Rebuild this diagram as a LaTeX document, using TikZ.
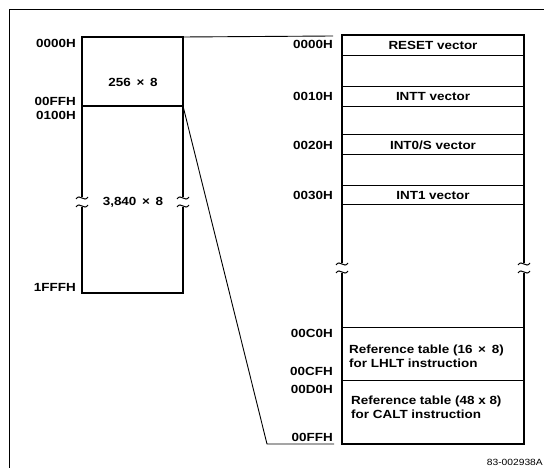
\documentclass[tikz,border=0pt]{standalone}
\usepackage{fontspec}
\setmainfont{Liberation Sans}[FakeStretch=1.14]
\begin{document}
\begin{tikzpicture}[x=1pt,y=-1pt,
  lbl/.style={font=\fontsize{11.8}{13.5}\selectfont\bfseries, inner sep=0pt},
  addr/.style={lbl, anchor=east},
  mem/.style={draw, line width=1.7pt, inner sep=0pt, outer sep=0pt, anchor=north west},
  row/.style={draw, line width=1pt, inner sep=0pt, outer sep=0pt, anchor=north west, minimum width=182pt, lbl},
  conn/.style={line width=0.9pt},
  frame/.style={line width=1pt},
  brk/.pic={
    \fill[white] (-5,-5) rectangle (5,5);
    \draw[line width=1pt] (-6,-3) .. controls (-2,-9) and (2,1) .. (6,-5);
    \draw[line width=1pt] (-6,5) .. controls (-2,-1) and (2,9) .. (6,3);
  }]
\useasboundingbox (0,0) rectangle (544,468);
% outer frame
\draw[frame] (9,468) -- (9,10) -- (544,10);

% left memory block
\node[mem, minimum width=101pt, minimum height=69pt] (blk1) at (82,37) {};
\node[mem, minimum width=101pt, minimum height=187pt] (blk2) at (82,106) {};
\node[lbl] (t1) at (133,82) {256 \,×\, 8};
\node[lbl] (t2) at (133,202) {3,840 \,×\, 8};
\pic at (82,202) {brk};
\pic at (183,202) {brk};
\node[addr] (la) at (76,43) {0000H};
\node[addr] (lb) at (76,101) {00FFH};
\node[addr] (lc) at (76,115) {0100H};
\node[addr] (ld) at (76,287) {1FFFH};

% right expanded map
\node[row, minimum height=21pt] (rst) at (342,35) {RESET vector};
\node[row, minimum height=20pt] (intt) at (342,87) {INTT vector};
\node[row, minimum height=20pt] (int0) at (342,135) {INT0/S vector};
\node[row, minimum height=19pt] (int1) at (342,186) {INT1 vector};
\node[row, minimum height=53pt] (lhlt) at (342,327) {};
\node[row, minimum height=64pt] (calt) at (342,380) {};
\node[mem, minimum width=182pt, minimum height=409pt] (map) at (342,35) {};
\pic at (342,268) {brk};
\pic at (524,268) {brk};
\node[lbl, anchor=west, align=left] (tl) at (349,356.5) {Reference table (16 \,×\, 8)\\for LHLT instruction};
\node[lbl, anchor=west, align=left] (tc) at (351,407.5) {Reference table (48 x 8)\\for CALT instruction};

\node[addr] (ra) at (333,44) {0000H};
\node[addr] (rb) at (333,96) {0010H};
\node[addr] (rc) at (333,145) {0020H};
\node[addr] (rd) at (333,195) {0030H};
\node[addr] (re) at (333,333) {00C0H};
\node[addr] (rf) at (333,371) {00CFH};
\node[addr] (rg) at (333,389) {00D0H};
\node[addr] (rh) at (333,437) {00FFH};

% connectors
\coordinate (e1) at (333,36);
\coordinate (k1) at (267,444);
\coordinate (e2) at (334,444);
\draw[conn] (blk1.north east) -- (e1);
\draw[conn] (blk1.south east) -- (k1) -- (e2);

\node[font=\fontsize{9}{11}\selectfont, anchor=east, inner sep=0pt] (code) at (543,462) {83-002938A};
\end{tikzpicture}
\end{document}
